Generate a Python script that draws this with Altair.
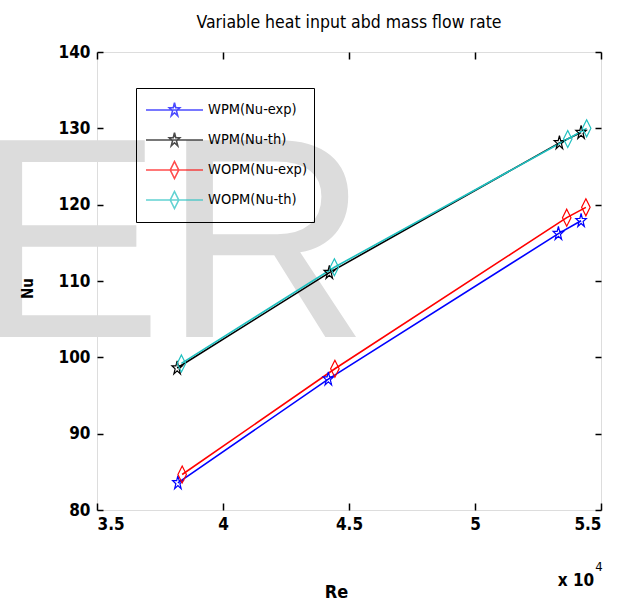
import altair as alt
import pandas as pd

# ---------------- data ----------------
series_names = ["WPM(Nu-exp)", "WPM(Nu-th)", "WOPM(Nu-exp)", "WOPM(Nu-th)"]
series_colors = ["#0000ff", "#000000", "#ff0000", "#1fc0c0"]

re_wpm_exp = [38210, 44180, 53310, 54210]
nu_wpm_exp = [83.55, 97.15, 116.2, 117.9]
re_wpm_th = [38180, 44220, 53350, 54210]
nu_wpm_th = [98.6, 111.1, 128.1, 129.45]
re_wopm_exp = [38380, 44440, 53640, 54400]
nu_wopm_exp = [84.65, 98.5, 118.3, 119.65]
re_wopm_th = [38350, 44420, 53680, 54430]
nu_wopm_th = [99.2, 111.8, 128.6, 130.0]

x_ticks = [35000, 40000, 45000, 50000, 55000]
y_ticks = [80, 90, 100, 110, 120, 130, 140]

title_text = "Variable heat input abd mass flow rate"
x_title = "Re"
y_title = "Nu"
watermark = "ER"
exp_base = "x 10"
exp_power = "4"

rows = []
for name, res, nus in zip(
    series_names,
    [re_wpm_exp, re_wpm_th, re_wopm_exp, re_wopm_th],
    [nu_wpm_exp, nu_wpm_th, nu_wopm_exp, nu_wopm_th],
):
    for r, n in zip(res, nus):
        rows.append({"series": name, "Re": r, "Nu": n})
df = pd.DataFrame(rows)

# ---------------- styling ----------------
W, H = 504, 458
NARROW = "DejaVu Sans Condensed, Liberation Sans Narrow, sans-serif"

STAR = ("M0,-0.845L0.146,-0.261L0.618,-0.261L0.236,0.1L0.382,0.684L0,0.323"
        "L-0.382,0.684L-0.236,0.1L-0.618,-0.261L-0.146,-0.261Z")
DIAMOND = "M0,-1L0.5,0L0,1L-0.5,0Z"
LINE = "M-1,0L1,0"
LSTAR = LINE + ("M0,-0.252L0.0435,-0.0778L0.184,-0.0778L0.0703,0.0298L0.1138,0.204"
                "L0,0.0963L-0.1138,0.204L-0.0703,0.0298L-0.184,-0.0778L-0.0435,-0.0778Z")
LDIAMOND = LINE + "M0,-0.298L0.149,0L0,0.298L-0.149,0Z"

xs = alt.Scale(domain=[35000, 55000], nice=False, zero=False)
ys = alt.Scale(domain=[80, 140], nice=False, zero=False)

def color_enc(legend=None):
    return alt.Color("series:N",
                     scale=alt.Scale(domain=series_names, range=series_colors),
                     legend=legend)

# watermark
wm = alt.Chart(pd.DataFrame({"t": [watermark]})).mark_text(
    text=watermark, font="Liberation Sans, Arial, sans-serif", fontSize=286,
    color="#dcdcdc", align="left", baseline="alphabetic"
).encode(x=alt.value(-125), y=alt.value(285))

# lines with main (labelled) axes
lines = alt.Chart(df).mark_line(strokeWidth=1.6).encode(
    x=alt.X("Re:Q", scale=xs, axis=alt.Axis(
        orient="bottom", values=x_ticks, labelExpr="datum.value/10000",
        ticks=False, domain=False, grid=False, labelFont=NARROW, labelFontSize=17,
        labelFontWeight="bold", labelColor="black", labelPadding=6,
        title=x_title, titleFont=NARROW, titleFontSize=18, titleFontWeight="bold",
        titleColor="black", titleX=239, titleY=82, titleBaseline="middle", zindex=1)),
    y=alt.Y("Nu:Q", scale=ys, axis=alt.Axis(
        orient="left", values=y_ticks, ticks=False, domain=False, grid=False,
        labelFont=NARROW, labelFontSize=17, labelFontWeight="bold",
        labelColor="black", labelPadding=7,
        title=y_title, titleFont=NARROW, titleFontSize=15, titleFontWeight="bold",
        titleColor="black", titleX=-70, titleY=236, titleBaseline="middle",
        titleAlign="center", zindex=1)),
    color=color_enc(),
    detail="series:N",
)

# markers + inward ticks at bottom and left
points = alt.Chart(df).mark_point(filled=False, size=289, strokeWidth=1.2, opacity=1).encode(
    x=alt.X("Re:Q", scale=xs, axis=alt.Axis(
        orient="top", offset=-H, values=x_ticks, labels=False, domain=False,
        grid=False, ticks=True, tickSize=7, tickWidth=1.5, tickColor="black",
        title=None, zindex=1)),
    y=alt.Y("Nu:Q", scale=ys, axis=alt.Axis(
        orient="right", offset=-W, values=y_ticks, labels=False, domain=False,
        grid=False, ticks=True, tickSize=6, tickWidth=1.5, tickColor="black",
        title=None, zindex=1)),
    color=color_enc(),
    shape=alt.Shape("series:N",
                    scale=alt.Scale(domain=series_names,
                                    range=[STAR, STAR, DIAMOND, DIAMOND]),
                    legend=None),
)

legend_props = dict(
    orient="none", legendX=39, legendY=36, title=None, strokeColor="black",
    padding=7, symbolSize=3249, symbolStrokeWidth=1.6, clipHeight=30,
    rowPadding=0, labelOffset=4, symbolOffset=2, labelFont=NARROW,
    labelFontSize=14.5, labelColor="black",
)

# empty layer that only carries the legend and the top/right inward ticks
leg = alt.Chart(df).transform_filter("false").mark_point(
    filled=False, size=3249, strokeWidth=1.5
).encode(
    x=alt.X("Re:Q", scale=xs, axis=alt.Axis(
        orient="bottom", offset=-H, values=x_ticks, labels=False, domain=False,
        grid=False, ticks=True, tickSize=7, tickWidth=1.5, tickColor="black",
        title=None, zindex=1)),
    y=alt.Y("Nu:Q", scale=ys, axis=alt.Axis(
        orient="left", offset=-W, values=y_ticks, labels=False, domain=False,
        grid=False, ticks=True, tickSize=6, tickWidth=1.5, tickColor="black",
        title=None, zindex=1)),
    color=color_enc(alt.Legend(**legend_props)),
    shape=alt.Shape("series:N",
                    scale=alt.Scale(domain=series_names,
                                    range=[LSTAR, LSTAR, LDIAMOND, LDIAMOND]),
                    legend=alt.Legend(**legend_props)),
)

exp1 = alt.Chart(pd.DataFrame({"t": [exp_base]})).mark_text(
    text=exp_base, font=NARROW, fontSize=17, fontWeight="bold", color="black",
    align="center", baseline="middle"
).encode(x=alt.value(479), y=alt.value(529))

exp2 = alt.Chart(pd.DataFrame({"t": [exp_power]})).mark_text(
    text=exp_power, font=NARROW, fontSize=13, color="black",
    align="center", baseline="middle"
).encode(x=alt.value(502), y=alt.value(515))

chart = alt.layer(wm, lines, points, leg, exp1, exp2).resolve_scale(
    color="independent", shape="independent"
).resolve_axis(
    x="independent", y="independent"
).properties(
    width=W, height=H,
    title=alt.TitleParams(title_text, font=NARROW, fontSize=17.5, fontWeight="normal",
                          color="black", anchor="middle", frame="group", offset=12),
    autosize=alt.AutoSizeParams(type="none"),
    padding={"left": 97, "top": 52, "right": 20, "bottom": 100},
).configure_view(
    stroke="black", strokeWidth=1.5
).configure(background="white")

chart.save("out.html", embed_options={"renderer": "svg", "actions": False})
